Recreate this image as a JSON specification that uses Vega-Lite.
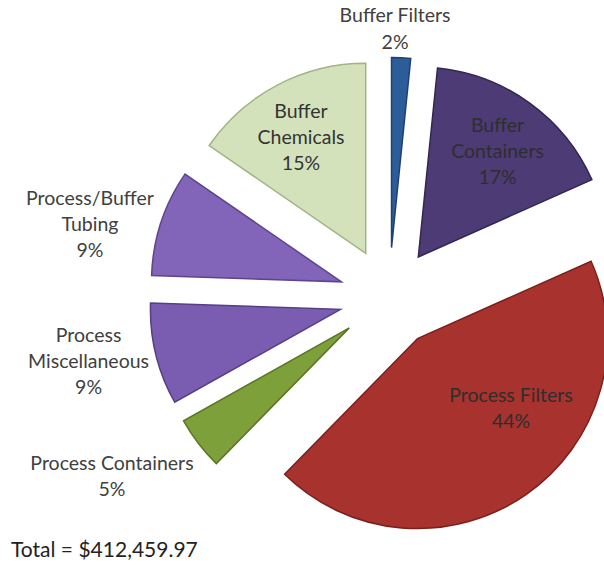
{
  "$schema": "https://vega.github.io/schema/vega-lite/v6.json",
  "width": 604,
  "height": 530,
  "padding": 0,
  "autosize": {"type": "pad"},
  "background": "white",
  "config": {"view": {"stroke": null}, "font": "Lato"},
  "title": {"text": "Total = $412,459.97", "orient": "bottom", "anchor": "start", "frame": "group", "dx": 11, "offset": 10, "fontSize": 21, "fontWeight": "normal", "color": "#222222", "font": "Lato", "baseline": "top"},
  "data": {"values": [
    {"name": "Buffer Filters", "share": 1.6},
    {"name": "Buffer Containers", "share": 16.6},
    {"name": "Process Filters", "share": 43.7},
    {"name": "Process Containers", "share": 4.5},
    {"name": "Process Miscellaneous", "share": 8.6},
    {"name": "Process/Buffer Tubing", "share": 9.0},
    {"name": "Buffer Chemicals", "share": 15.3}
  ]},
  "transform": [
    {"joinaggregate": [{"op": "sum", "field": "share", "as": "total"}]},
    {"window": [{"op": "sum", "field": "share", "as": "v1"}], "frame": [null, 0]},
    {"calculate": "datum.v1 - datum.share", "as": "v0"},
    {"calculate": "2*PI*datum.v0/datum.total", "as": "a0"},
    {"calculate": "2*PI*datum.v1/datum.total", "as": "a1"},
    {"calculate": "(datum.a0+datum.a1)/2", "as": "mid"},
    {"calculate": "format(datum.share/datum.total,'.0%')", "as": "pct"},
    {"calculate": "indexof(datum.name,' ')", "as": "sp"},
    {"calculate": "slice(datum.name,0,datum.sp) + '\\n' + slice(datum.name,datum.sp+1) + '\\n' + datum.pct", "as": "wrapped"},
    {"calculate": "datum.name + '\\n' + datum.pct", "as": "plain"}
  ],
  "layer": [
    {
      "mark": {"type": "arc", "radius": 190, "clip": true, "strokeWidth": 1.5,
        "x": {"expr": "389 + 50*sin(datum.mid)"},
        "y": {"expr": "297.5 - 50*cos(datum.mid)"}},
      "encoding": {
        "theta": {"field": "a0", "type": "quantitative", "scale": null, "stack": null},
        "theta2": {"field": "a1"},
        "color": {"field": "name", "type": "nominal", "legend": null,
          "scale": {"domain": ["Buffer Filters", "Buffer Containers", "Process Filters", "Process Containers", "Process Miscellaneous", "Process/Buffer Tubing", "Buffer Chemicals"],
                    "range": ["#2C5D98", "#4D3B76", "#A8322D", "#7DA03A", "#7A5DB1", "#8264B8", "#D4E2BB"]}},
        "stroke": {"field": "name", "type": "nominal", "legend": null,
          "scale": {"domain": ["Buffer Filters", "Buffer Containers", "Process Filters", "Process Containers", "Process Miscellaneous", "Process/Buffer Tubing", "Buffer Chemicals"],
                    "range": ["#1E4170", "#33264F", "#7A201C", "#5A7625", "#553F82", "#5C468A", "#A2B386"]}}
      }
    },
    {
      "transform": [{"filter": "datum.name === 'Buffer Filters'"}],
      "mark": {"type": "text", "lineBreak": "\n", "radius": 218, "dx": -7.5, "dy": -13.9, "fontSize": 19.5, "lineHeight": 27, "color": "#404040", "baseline": "middle", "align": "center",
        "x": {"expr": "389 + 50*sin(datum.mid)"}, "y": {"expr": "297.5 - 50*cos(datum.mid)"}},
      "encoding": {"theta": {"field": "mid", "type": "quantitative", "scale": null, "stack": null}, "text": {"field": "plain"}}
    },
    {
      "transform": [{"filter": "datum.name === 'Buffer Containers'"}],
      "mark": {"type": "text", "lineBreak": "\n", "radius": 136, "dx": -0.5, "dy": -21.3, "fontSize": 19.5, "lineHeight": 26, "color": "#2E2E2E", "baseline": "middle", "align": "center",
        "x": {"expr": "389 + 50*sin(datum.mid)"}, "y": {"expr": "297.5 - 50*cos(datum.mid)"}},
      "encoding": {"theta": {"field": "mid", "type": "quantitative", "scale": null, "stack": null}, "text": {"field": "wrapped"}}
    },
    {
      "transform": [{"filter": "datum.name === 'Buffer Chemicals'"}],
      "mark": {"type": "text", "lineBreak": "\n", "radius": 140, "dx": 0.4, "dy": -17.8, "fontSize": 19.5, "lineHeight": 26, "color": "#333333", "baseline": "middle", "align": "center",
        "x": {"expr": "389 + 50*sin(datum.mid)"}, "y": {"expr": "297.5 - 50*cos(datum.mid)"}},
      "encoding": {"theta": {"field": "mid", "type": "quantitative", "scale": null, "stack": null}, "text": {"field": "wrapped"}}
    },
    {
      "transform": [{"filter": "datum.name === 'Process Filters'"}],
      "mark": {"type": "text", "lineBreak": "\n", "radius": 107, "dx": 32.4, "dy": -30, "fontSize": 19.5, "lineHeight": 26, "color": "#2E2E2E", "baseline": "middle", "align": "center",
        "x": {"expr": "389 + 50*sin(datum.mid)"}, "y": {"expr": "297.5 - 50*cos(datum.mid)"}},
      "encoding": {"theta": {"field": "mid", "type": "quantitative", "scale": null, "stack": null}, "text": {"field": "plain"}}
    },
    {
      "transform": [{"filter": "datum.name === 'Process/Buffer Tubing'"}],
      "mark": {"type": "text", "lineBreak": "\n", "radius": 258, "dx": -6.5, "dy": -2.7, "fontSize": 19.5, "lineHeight": 26, "color": "#404040", "baseline": "middle", "align": "center",
        "x": {"expr": "389 + 50*sin(datum.mid)"}, "y": {"expr": "297.5 - 50*cos(datum.mid)"}},
      "encoding": {"theta": {"field": "mid", "type": "quantitative", "scale": null, "stack": null}, "text": {"field": "wrapped"}}
    },
    {
      "transform": [{"filter": "datum.name === 'Process Miscellaneous'"}],
      "mark": {"type": "text", "lineBreak": "\n", "radius": 255, "dx": -4.1, "dy": -34.1, "fontSize": 19.5, "lineHeight": 26, "color": "#404040", "baseline": "middle", "align": "center",
        "x": {"expr": "389 + 50*sin(datum.mid)"}, "y": {"expr": "297.5 - 50*cos(datum.mid)"}},
      "encoding": {"theta": {"field": "mid", "type": "quantitative", "scale": null, "stack": null}, "text": {"field": "wrapped"}}
    },
    {
      "transform": [{"filter": "datum.name === 'Process Containers'"}],
      "mark": {"type": "text", "lineBreak": "\n", "radius": 268, "dx": -24.5, "dy": -26.3, "fontSize": 19.5, "lineHeight": 26, "color": "#404040", "baseline": "middle", "align": "center",
        "x": {"expr": "389 + 50*sin(datum.mid)"}, "y": {"expr": "297.5 - 50*cos(datum.mid)"}},
      "encoding": {"theta": {"field": "mid", "type": "quantitative", "scale": null, "stack": null}, "text": {"field": "plain"}}
    }
  ]
}
